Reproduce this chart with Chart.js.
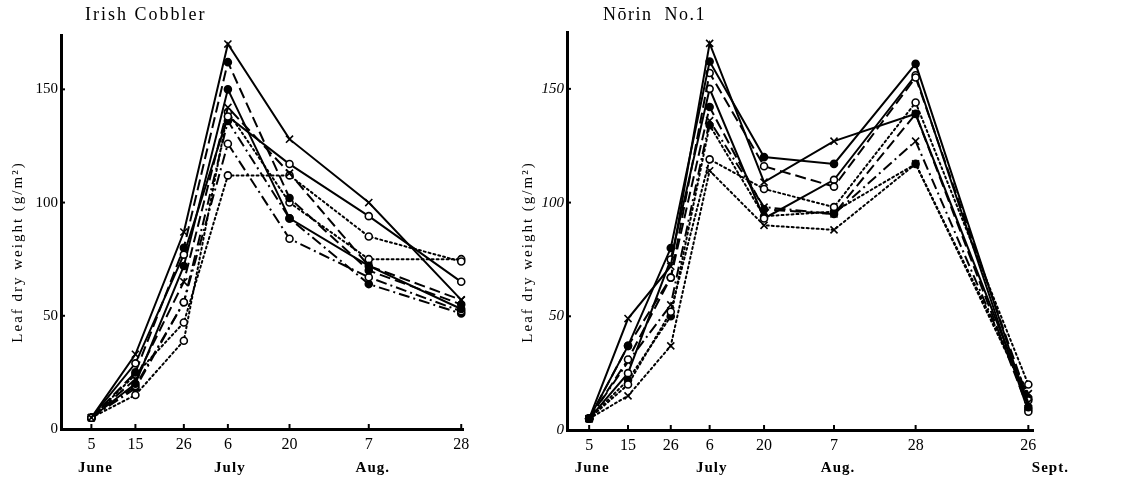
<!DOCTYPE html>
<html>
<head>
<meta charset="utf-8">
<script src="https://cdn.jsdelivr.net/npm/chart.js@4.4.1/dist/chart.umd.min.js"></script>
<style>
  html, body { margin: 0; padding: 0; background: #fff; }
  #wrap { position: relative; width: 1138px; height: 481px; }
  .panel { position: absolute; top: 0; height: 481px; }
  #left { left: 0; width: 505px; }
  #right { left: 505px; width: 633px; }
</style>
</head>
<body>
<div id="wrap">
  <div class="panel" id="left"><canvas id="cobblerChart"></canvas></div>
  <div class="panel" id="right"><canvas id="norinChart"></canvas></div>
</div>
<script>
// sampling days, counted from June 5
const cobblerDays = [0, 10, 21, 31, 45, 63, 84];
const cobblerTickLabels = ['5', '15', '26', '6', '20', '7', '28'];
const cobblerMonths = ['June', 'July', 'Aug.'];
const cobblerMonthDays = [0, 31, 63];

const norinDays = [0, 10, 21, 31, 45, 63, 84, 113];
const norinTickLabels = ['5', '15', '26', '6', '20', '7', '28', '26'];
const norinMonths = ['June', 'July', 'Aug.', 'Sept.'];
const norinMonthDays = [0, 31, 63, 113];

const yTicks = [0, 50, 100, 150];

// Irish Cobbler, leaf dry weight g/m2
const cobSolidCross  = [5, 33, 87, 170, 128, 100, 57];
const cobSolidRing   = [5, 29, 77, 138, 117, 94, 65];
const cobSolidDot    = [5, 20, 72, 150, 93, 72, 53];
const cobDashedDot   = [5, 25, 80, 162, 102, 70, 55];
const cobDashedCross = [5, 22, 65, 142, 113, 72, 57];
const cobDottedRing  = [5, 24, 47, 112, 112, 85, 74];
const cobDottedRing2 = [5, 15, 39, 140, 100, 75, 75];
const cobDashDotRing = [5, 19, 56, 126, 84, 67, 52];
const cobDashDotDot  = [5, 18, 56, 136, 93, 64, 51];

// Norin No.1
const norSolidCross   = [5, 49, 72, 170, 109, 127, 139, 12];
const norSolidDot     = [5, 37, 80, 162, 120, 117, 161, 10];
const norDashedRing   = [5, 31, 67, 157, 116, 107, 155, 13];
const norSolidRing    = [5, 25, 75, 150, 93, 110, 156, 8];
const norDashedDot    = [5, 37, 67, 142, 97, 95, 139, 9];
const norDashDotCross = [5, 30, 55, 136, 98, 95, 127, 12];
const norDottedRing   = [5, 20, 52, 119, 106, 98, 144, 20];
const norDottedCross  = [5, 15, 37, 114, 90, 88, 117, 16];
const norDottedDot    = [5, 22, 50, 134, 94, 96, 117, 14];

const SERIF = '"Liberation Serif", "DejaVu Serif", serif';

const dashes = {
  solid: [],
  dashed: [11, 5],
  dotted: [2, 3],
  dashdot: [11, 4, 2, 4]
};

function series(days, values, line, marker) {
  const ring = marker === 'ring';
  return {
    data: days.map((d, i) => ({ x: d, y: values[i] })),
    borderColor: '#000',
    borderWidth: 2,
    borderDash: dashes[line],
    borderCapStyle: line === 'dotted' ? 'round' : 'butt',
    pointStyle: marker === 'cross' ? 'crossRot' : 'circle',
    pointRadius: marker === 'cross' ? 5 : 3.5,
    pointBorderWidth: 1.6,
    pointBorderColor: '#000',
    pointBackgroundColor: ring ? '#fff' : '#000',
    tension: 0,
    clip: false
  };
}

// axis dressing the way the paper figure has it
const paperPlugin = {
  id: 'paper',
  afterDraw(chart, args, opts) {
    const { ctx, scales: { x, y } } = chart;
    ctx.save();
    ctx.strokeStyle = '#000';
    ctx.fillStyle = '#000';
    ctx.lineWidth = 2;
    opts.days.forEach(d => {
      const px = x.getPixelForValue(d);
      ctx.beginPath();
      ctx.moveTo(px, y.bottom);
      ctx.lineTo(px, y.bottom - 5);
      ctx.stroke();
    });
    yTicks.forEach(v => {
      const py = y.getPixelForValue(v);
      ctx.beginPath();
      ctx.moveTo(x.left, py);
      ctx.lineTo(x.left + 4, py);
      ctx.stroke();
    });

    ctx.font = 'bold 15px ' + SERIF;
    ctx.textAlign = 'center';
    ctx.textBaseline = 'middle';
    ctx.letterSpacing = '1px';
    opts.months.forEach((m, i) => {
      ctx.fillText(m, x.getPixelForValue(opts.monthDays[i]) + opts.monthShift[i], 468);
    });

    ctx.font = '18px ' + SERIF;
    ctx.textAlign = 'left';
    ctx.letterSpacing = opts.titleSpacing;
    ctx.fillText(opts.title, opts.titleX, 15);

    ctx.translate(opts.yTitleX, 252);
    ctx.rotate(-Math.PI / 2);
    ctx.font = '15px ' + SERIF;
    ctx.textAlign = 'center';
    ctx.letterSpacing = '2px';
    ctx.fillText('Leaf dry weight (g/m²)', 0, 0);
    ctx.restore();
  }
};

function makeChart(canvasId, cfg) {
  const ctx = document.getElementById(canvasId).getContext('2d');
  return new Chart(ctx, {
    type: 'line',
    data: { datasets: cfg.datasets },
    plugins: [paperPlugin],
    options: {
      responsive: true,
      maintainAspectRatio: false,
      animation: false,
      layout: { padding: { left: 0, right: cfg.padRight, top: cfg.padTop, bottom: 0 } },
      plugins: {
        legend: { display: false },
        tooltip: { enabled: false },
        paper: {
          days: cfg.days,
          months: cfg.months,
          monthDays: cfg.monthDays,
          monthShift: cfg.monthShift,
          title: cfg.title,
          titleX: cfg.titleX,
          titleSpacing: cfg.titleSpacing,
          yTitleX: cfg.yTitleX
        }
      },
      scales: {
        x: {
          type: 'linear',
          min: cfg.xMin,
          max: cfg.xMax,
          grid: { display: false, drawTicks: false },
          border: { display: true, color: '#000', width: 3 },
          afterBuildTicks: scale => { scale.ticks = cfg.days.map(v => ({ value: v })); },
          afterFit: scale => { scale.height = cfg.xHeight; },
          ticks: {
            color: '#000',
            padding: 6,
            maxRotation: 0,
            autoSkip: false,
            font: { family: SERIF, size: 16 },
            callback: v => cfg.tickLabels[cfg.days.indexOf(v)]
          }
        },
        y: {
          min: 0,
          max: cfg.yMax,
          grid: { display: false, drawTicks: false },
          border: { display: true, color: '#000', width: 3 },
          afterBuildTicks: scale => { scale.ticks = yTicks.map(v => ({ value: v })); },
          afterFit: scale => { scale.width = cfg.yWidth; },
          ticks: {
            color: '#000',
            padding: 3,
            font: { family: SERIF, size: 15, style: cfg.italicY ? 'italic' : 'normal' }
          }
        }
      }
    }
  });
}

document.addEventListener('DOMContentLoaded', function () {
  makeChart('cobblerChart', {
    days: cobblerDays,
    tickLabels: cobblerTickLabels,
    months: cobblerMonths,
    monthDays: cobblerMonthDays,
    monthShift: [4, 2, 4],
    title: 'Irish Cobbler',
    titleX: 85,
    titleSpacing: '2px',
    yTitleX: 18,
    xMin: -6.9,
    xMax: 84.4,
    yMax: 174,
    yWidth: 61,
    xHeight: 52,
    padTop: 35,
    padRight: 42,
    datasets: [
      series(cobblerDays, cobSolidCross, 'solid', 'cross'),
      series(cobblerDays, cobSolidRing, 'solid', 'ring'),
      series(cobblerDays, cobSolidDot, 'solid', 'dot'),
      series(cobblerDays, cobDashedDot, 'dashed', 'dot'),
      series(cobblerDays, cobDashedCross, 'dashed', 'cross'),
      series(cobblerDays, cobDottedRing, 'dotted', 'ring'),
      series(cobblerDays, cobDottedRing2, 'dotted', 'ring'),
      series(cobblerDays, cobDashDotRing, 'dashdot', 'ring'),
      series(cobblerDays, cobDashDotDot, 'dashdot', 'dot')
    ]
  });

  makeChart('norinChart', {
    days: norinDays,
    tickLabels: norinTickLabels,
    months: norinMonths,
    monthDays: norinMonthDays,
    monthShift: [3, 2, 4, 22],
    title: 'Nōrin  No.1',
    titleX: 98,
    titleSpacing: '1.5px',
    yTitleX: 23,
    xMin: -5.7,
    xMax: 114.2,
    yMax: 175,
    yWidth: 62,
    xHeight: 51,
    padTop: 32,
    padRight: 105,
    italicY: true,
    datasets: [
      series(norinDays, norSolidCross, 'solid', 'cross'),
      series(norinDays, norSolidDot, 'solid', 'dot'),
      series(norinDays, norDashedRing, 'dashed', 'ring'),
      series(norinDays, norSolidRing, 'solid', 'ring'),
      series(norinDays, norDashedDot, 'dashed', 'dot'),
      series(norinDays, norDashDotCross, 'dashdot', 'cross'),
      series(norinDays, norDottedRing, 'dotted', 'ring'),
      series(norinDays, norDottedCross, 'dotted', 'cross'),
      series(norinDays, norDottedDot, 'dotted', 'dot')
    ]
  });
});
</script>
</body>
</html>
